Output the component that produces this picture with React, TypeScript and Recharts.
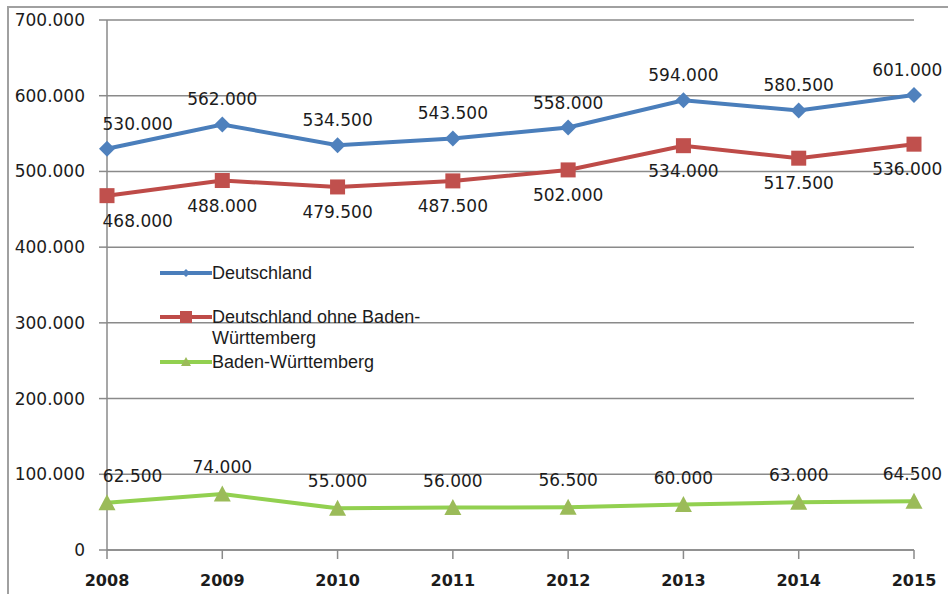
import { LineChart, Line, XAxis, YAxis, CartesianGrid, LabelList } from 'recharts';

const years = ['2008', '2009', '2010', '2011', '2012', '2013', '2014', '2015'];
const deutschland = [530000, 562000, 534500, 543500, 558000, 594000, 580500, 601000];
const ohneBW = [468000, 488000, 479500, 487500, 502000, 534000, 517500, 536000];
const badenW = [62500, 74000, 55000, 56000, 56500, 60000, 63000, 64500];
const yTicks = [0, 100000, 200000, 300000, 400000, 500000, 600000, 700000];

const data = years.map((year, i) => ({
  year,
  de: deutschland[i],
  ohne: ohneBW[i],
  bw: badenW[i],
}));

const BLUE = '#4a7ebb';
const RED = '#be4b48';
const GREEN_LINE = '#92d050';
const GREEN_MARK = '#9bbb59';
const GRID = '#8a8a8a';
const NUM_FONT = '"DejaVu Sans", Verdana, sans-serif';

// german thousands separator
const fmt = (v: number) => (v === 0 ? '0' : String(Math.round(v)).replace(/\B(?=(\d{3})+(?!\d))/g, '.'));

// labels are kept inside the chart area like excel does
const makeLabel = (dy: number) => (props: any) => {
  const { x, y, value } = props;
  const txt = fmt(value);
  const w = txt.length * 10.2;
  let cx = x;
  if (cx - w / 2 < 102) cx = 102 + w / 2;
  if (cx + w / 2 > 943) cx = 943 - w / 2;
  return (
    <text
      x={cx}
      y={y + dy}
      textAnchor="middle"
      dominantBaseline="central"
      fontFamily={NUM_FONT}
      fontSize={17}
      fill="#1c1c1c"
    >
      {txt}
    </text>
  );
};

const Diamond = (props: any) => {
  const { cx, cy } = props;
  if (cx == null || cy == null) return null;
  const r = 8;
  return <polygon points={`${cx},${cy - r} ${cx + r},${cy} ${cx},${cy + r} ${cx - r},${cy}`} fill="#4f81bd" />;
};

const Square = (props: any) => {
  const { cx, cy } = props;
  if (cx == null || cy == null) return null;
  const s = 15;
  return <rect x={cx - s / 2} y={cy - s / 2} width={s} height={s} fill="#c0504d" />;
};

const Triangle = (props: any) => {
  const { cx, cy } = props;
  if (cx == null || cy == null) return null;
  const r = 8.5;
  return <polygon points={`${cx},${cy - r} ${cx + r},${cy + r - 1} ${cx - r},${cy + r - 1}`} fill={GREEN_MARK} />;
};

const legendItems = [
  { label: ['Deutschland'], color: BLUE, mark: 'diamond', top: 266 },
  { label: ['Deutschland ohne Baden-', 'Württemberg'], color: RED, mark: 'square', top: 310 },
  { label: ['Baden-Württemberg'], color: GREEN_LINE, mark: 'triangle', top: 355 },
];

const LegendMark = ({ color, mark }: { color: string; mark: string }) => (
  <svg width={52} height={14} style={{ flex: 'none' }}>
    <line x1={0} y1={7} x2={52} y2={7} stroke={color} strokeWidth={4} />
    {mark === 'diamond' && <polygon points="26,3 30,7 26,11 22,7" fill="#4f81bd" />}
    {mark === 'square' && <rect x={20} y={1} width={12} height={12} fill="#c0504d" />}
    {mark === 'triangle' && <polygon points="26,2 31,11 21,11" fill={GREEN_MARK} />}
  </svg>
);

const ChartLegend = () => (
  <>
    {legendItems.map((it) => (
      <div
        key={it.label[0]}
        style={{
          position: 'absolute',
          left: 160,
          top: it.top,
          display: 'flex',
          alignItems: 'flex-start',
          fontFamily: '"Liberation Sans", Arial, sans-serif',
          fontSize: 18,
          color: '#1c1c1c',
          whiteSpace: 'nowrap',
        }}
      >
        <LegendMark color={it.color} mark={it.mark} />
        <div style={{ lineHeight: '21px', marginTop: -3 }}>
          {it.label.map((l) => (
            <div key={l}>{l}</div>
          ))}
        </div>
      </div>
    ))}
  </>
);

export default function App() {
  return (
    <div style={{ position: 'absolute', left: 0, top: 0, width: 948, height: 594, background: '#fff' }}>
      <div
        style={{
          position: 'absolute',
          left: 7,
          top: 6,
          width: 941,
          height: 588,
          borderLeft: '2px solid #a0a0a0',
          borderTop: '2px solid #a0a0a0',
          boxSizing: 'border-box',
        }}
      />
      <LineChart
        width={948}
        height={594}
        data={data}
        margin={{ top: 20, right: 34, left: 0, bottom: 0 }}
        style={{ position: 'absolute', left: 0, top: 0 }}
      >
        <CartesianGrid vertical={false} stroke={GRID} strokeWidth={1.5} />
        <XAxis
          dataKey="year"
          height={44}
          tickSize={9}
          tickMargin={16}
          axisLine={{ stroke: GRID, strokeWidth: 1.5 }}
          tickLine={{ stroke: GRID, strokeWidth: 1.5 }}
          tick={{ fontFamily: NUM_FONT, fontSize: 16, fontWeight: 'bold', fill: '#1c1c1c' }}
          interval={0}
        />
        <YAxis
          width={107}
          domain={[0, 700000]}
          ticks={yTicks}
          tickFormatter={fmt}
          tickSize={8}
          tickMargin={14}
          axisLine={{ stroke: GRID, strokeWidth: 1.5 }}
          tickLine={{ stroke: GRID, strokeWidth: 1.5 }}
          tick={{ fontFamily: NUM_FONT, fontSize: 17, fill: '#1c1c1c' }}
        />
        <Line
          dataKey="de"
          name="Deutschland"
          stroke={BLUE}
          strokeWidth={4}
          dot={<Diamond />}
          activeDot={false}
          isAnimationActive={false}
        >
          <LabelList dataKey="de" content={makeLabel(-25)} />
        </Line>
        <Line
          dataKey="ohne"
          name="Deutschland ohne Baden-Württemberg"
          stroke={RED}
          strokeWidth={4}
          dot={<Square />}
          activeDot={false}
          isAnimationActive={false}
        >
          <LabelList dataKey="ohne" content={makeLabel(25)} />
        </Line>
        <Line
          dataKey="bw"
          name="Baden-Württemberg"
          stroke={GREEN_LINE}
          strokeWidth={4}
          dot={<Triangle />}
          activeDot={false}
          isAnimationActive={false}
        >
          <LabelList dataKey="bw" content={makeLabel(-27)} />
        </Line>
      </LineChart>
      <ChartLegend />
    </div>
  );
}
